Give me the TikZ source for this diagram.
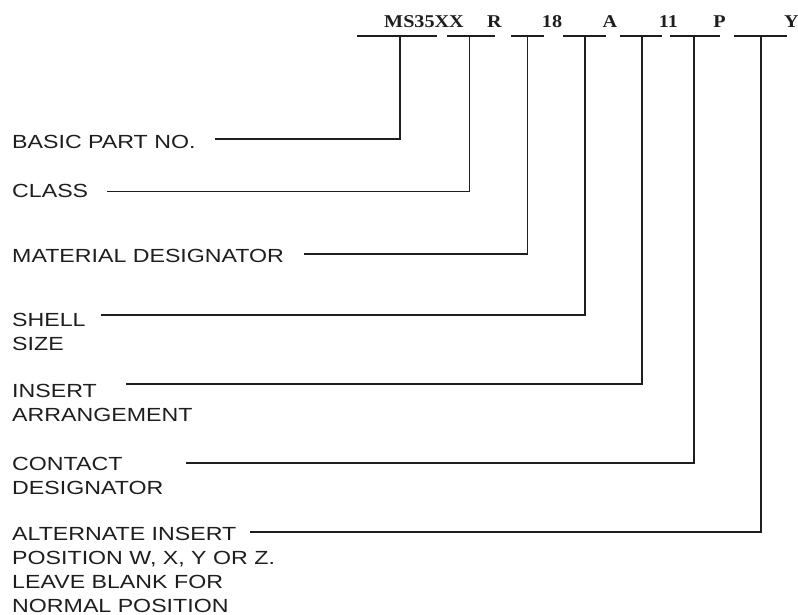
\documentclass[tikz,border=0pt]{standalone}
\usepackage{fontspec}
\setmainfont{Liberation Sans}
\newfontfamily\lblfont{Liberation Sans}[FakeStretch=1.22]
\newfontfamily\codefont{Liberation Serif}[FakeStretch=1.12]
\usetikzlibrary{positioning}
\definecolor{ink}{RGB}{30,30,30}

\begin{document}
\begin{tikzpicture}[
    x=1pt, y=-1pt,
    lbl/.style={anchor=base west, inner sep=0pt, align=left, text=ink,
      font=\lblfont\fontsize{19}{23.8}\selectfont},
    code/.style={anchor=base, inner sep=0pt, text=ink,
      font=\codefont\bfseries\fontsize{18}{20}\selectfont},
    leader/.style={draw=ink, line width=1.8pt}
  ]
    \useasboundingbox (0,0) rectangle (798,614);

    % part number fields
    \node[code] (base) at (424,27) {MS35XX};
    \node[code] (cls) at (494.5,27) {R};
    \node[code] (mat) at (552,27) {18};
    \node[code] (size) at (610,27) {A};
    \node[code] (ins) at (668.5,27) {11};
    \node[code] (cont) at (719.5,27) {P};
    \node[code] (alt) at (791.5,27) {Y};

    % blanks under the fields
    \foreach \name/\l/\r/\t in {bpart/357/437/400, bcls/447/495/469.5,
        bmat/511/544/527.5, bsize/563/606/585, bins/620/662/642,
        bcont/670/720/694, balt/734/787/761} {
      \draw[leader] (\l,36) -- (\r,36);
      \coordinate (\name) at (\t,36);
    }

    % descriptions (base = baseline of the last line)
    \node[lbl] (partlbl) at (12,148) {BASIC PART NO.};
    \node[lbl] (clslbl) at (12,197) {CLASS};
    \node[lbl] (matlbl) at (12,262) {MATERIAL DESIGNATOR};
    \node[lbl] (sizelbl) at (12,350.5) {SHELL\\SIZE};
    \node[lbl] (inslbl) at (12,421.5) {INSERT\\ARRANGEMENT};
    \node[lbl] (contlbl) at (12,494) {CONTACT\\DESIGNATOR};
    \node[lbl] (altlbl) at (12,612) {ALTERNATE INSERT\\POSITION W, X, Y OR Z.\\LEAVE BLANK FOR\\NORMAL POSITION};

    \coordinate (partin) at (215,139);
    \coordinate (clsin) at (107,191.5);
    \coordinate (matin) at (304,254);
    \coordinate (sizein) at (101,315);
    \coordinate (insin) at (126,384);
    \coordinate (contin) at (186,463);
    \coordinate (altin) at (250,532);

    \draw[leader] (partin) -| (bpart);
    \draw[leader] (clsin) -| (bcls);
    \draw[leader] (matin) -| (bmat);
    \draw[leader] (sizein) -| (bsize);
    \draw[leader] (insin) -| (bins);
    \draw[leader] (contin) -| (bcont);
    \draw[leader] (altin) -| (balt);
  \end{tikzpicture}
\end{document}
